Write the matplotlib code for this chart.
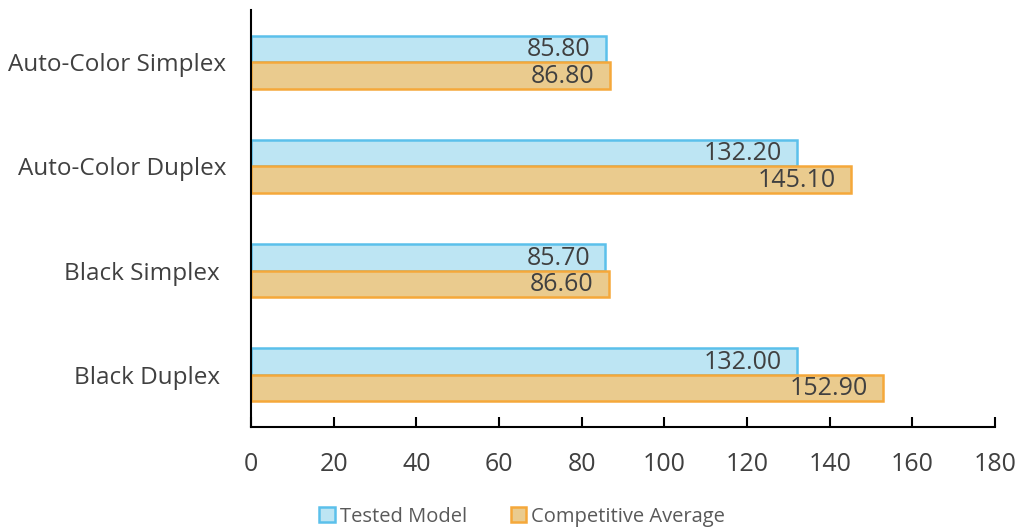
import matplotlib
matplotlib.use("Agg")
import matplotlib.pyplot as plt
import numpy as np

categories = ["Black Duplex ", "Black Simplex ", "Auto-Color Duplex", "Auto-Color Simplex"]
tested_model = [132.00, 85.70, 132.20, 85.80]
competitive_avg = [152.90, 86.60, 145.10, 86.80]
xticks = [0, 20, 40, 60, 80, 100, 120, 140, 160, 180]

plt.rcParams['font.family'] = ['Open Sans', 'DejaVu Sans']
txt = '#404040'

fig = plt.figure(figsize=(10.18, 5.29), dpi=100)
ax = fig.add_axes([0.2466, 0.1928, 0.7308, 0.7882])

y = np.arange(len(categories))
h = 0.255
b1 = ax.barh(y + h/2, tested_model, height=h, color='#BDE5F3', edgecolor='#5BC0EB', linewidth=1.8, label='Tested Model')
b2 = ax.barh(y - h/2, competitive_avg, height=h, color='#EACB8E', edgecolor='#F5A83A', linewidth=1.8, label='Competitive Average')

for bars, vals in ((b1, tested_model), (b2, competitive_avg)):
    for bar, v in zip(bars, vals):
        ax.annotate(f"{v:.2f}", xy=(v, bar.get_y() + bar.get_height()/2),
                    xytext=(-11, -0.5), textcoords='offset points',
                    ha='right', va='center', fontsize=18, color=txt)

ax.set_xlim(0, 180)
ax.set_ylim(-0.5, 3.5)
ax.set_xticks(xticks)
ax.set_xticklabels([str(t) for t in xticks])
ax.set_yticks(y)
ax.set_yticklabels(categories)
ax.tick_params(axis='x', direction='in', length=7, width=1.5, pad=18, labelsize=18, labelcolor=txt)
ax.tick_params(axis='y', length=0, pad=18, labelsize=17.5, labelcolor=txt)
for s in ['top', 'right']:
    ax.spines[s].set_visible(False)
for s in ['left', 'bottom']:
    ax.spines[s].set_linewidth(1.5)
    ax.spines[s].set_color('black')

leg = fig.legend(loc='center', bbox_to_anchor=(0.513, 0.023), ncol=2, frameon=False,
                 fontsize=14.5, handlelength=0.75, handleheight=0.75, handletextpad=0.25,
                 columnspacing=2.2, labelcolor='#595959')

fig.savefig('out.png', dpi=100)
